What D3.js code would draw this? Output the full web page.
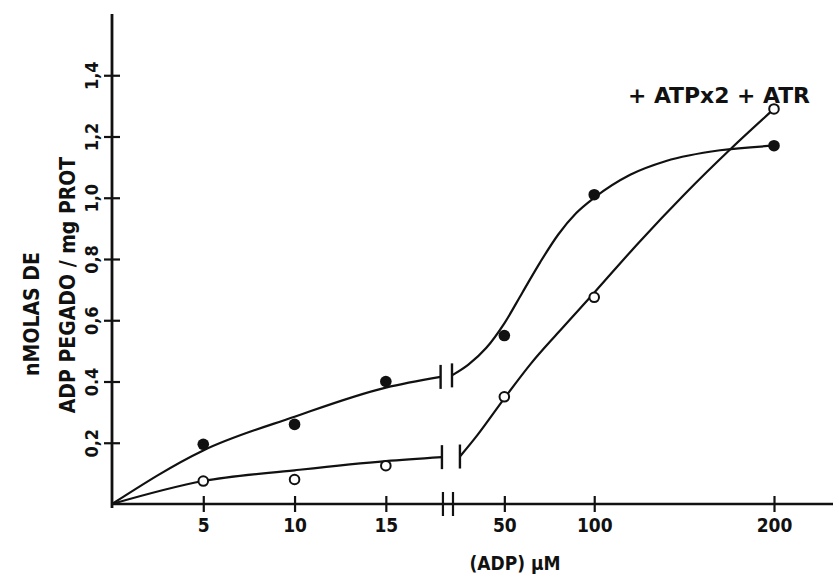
<!DOCTYPE html>
<html>
<head>
<meta charset="utf-8">
<script src="https://cdn.jsdelivr.net/npm/d3@7"></script>
<style>
  body { margin: 0; background: #fff; }
  text { font-family: "DejaVu Sans Condensed", "DejaVu Sans", sans-serif; font-weight: bold; fill: #111; }
</style>
</head>
<body>
<div id="chart"></div>
<script>
// ADP concentration (uM) of the measured points
const adp = [5, 10, 15, 50, 100, 200];
// nmol ADP bound / mg protein
const filledValues = [0.195, 0.26, 0.40, 0.55, 1.01, 1.17];
const openValues = [0.075, 0.08, 0.125, 0.35, 0.675, 1.29];

// fitted curves drawn by hand in the original
const filledCurveLeft = [[0, 0], [5, 0.175], [10, 0.285], [15, 0.38], [18, 0.415]];
const filledCurveRight = [[21.4, 0.42], [30, 0.455], [40, 0.51], [50, 0.59], [60, 0.69], [70, 0.79],
  [80, 0.88], [90, 0.95], [100, 1.0], [120, 1.075], [140, 1.12], [170, 1.155], [200, 1.17]];
const openCurveLeft = [[0, 0], [5, 0.075], [10, 0.11], [15, 0.14], [18.4, 0.153]];
const openCurveRight = [[25.3, 0.155], [35, 0.225], [50, 0.345], [65, 0.46], [80, 0.56], [100, 0.69],
  [125, 0.855], [150, 1.01], [176, 1.16], [200, 1.29]];

const xTicks = [5, 10, 15, 50, 100, 200];
const yTicks = [0.2, 0.4, 0.6, 0.8, 1.0, 1.2, 1.4];
const yTickLabels = ["0,2", "0.4", "0,6", "0,8", "1,0", "1,2", "1,4"];
const axisBreak = [18.7, 21.7];

const yTitle = ["nMOLAS DE", "ADP PEGADO / mg PROT"];
const xTitle = "(ADP) \u00b5M";
const curveLabel = "+ ATPx2 + ATR";

const width = 833, height = 578;

const svg = d3.select("#chart")
  .append("svg")
  .attr("width", width)
  .attr("height", height);

// broken x axis: linear 0-18, gap, linear 22-200
let x = d3.scaleLinear().domain([0, 18, 22, 200]).range([112, 440.6, 454, 774]);
let y = d3.scaleLinear().domain([0, 1.6]).range([504, 14]);

let line = d3.line()
  .x(d => x(d[0]))
  .y(d => y(d[1]))
  .curve(d3.curveMonotoneX);

// x axis
svg.append("line")
  .attr("x1", x(0)).attr("x2", width)
  .attr("y1", y(0)).attr("y2", y(0))
  .style("stroke", "#111").style("stroke-width", 2.5);

let xAxis = d3.axisBottom(x).tickValues(xTicks).tickSize(8).tickFormat(d3.format("d"));
let gx = svg.append("g")
  .attr("transform", "translate(0," + y(0) + ")")
  .call(xAxis);
gx.select(".domain").remove();
gx.selectAll(".tick line").attr("y1", -8).style("stroke", "#111").style("stroke-width", 2.2);
gx.selectAll(".tick text").attr("y", 15).style("font-size", "19px");

// axis break marks
svg.selectAll("line.xbreak")
  .data(axisBreak)
  .enter().append("line")
  .attr("class", "xbreak")
  .attr("x1", d => x(d)).attr("x2", d => x(d))
  .attr("y1", y(0) - 12).attr("y2", y(0) + 12)
  .style("stroke", "#111").style("stroke-width", 2.2);

// y axis
svg.append("line")
  .attr("x1", x(0)).attr("x2", x(0))
  .attr("y1", y(1.6)).attr("y2", y(0) + 4)
  .style("stroke", "#111").style("stroke-width", 2.8);

let yAxis = d3.axisLeft(y).tickValues(yTicks).tickSize(8)
  .tickFormat((d, i) => yTickLabels[i]);
let gy = svg.append("g")
  .attr("transform", "translate(" + x(0) + ",0)")
  .call(yAxis);
gy.select(".domain").remove();
gy.selectAll(".tick line").attr("x1", 8).style("stroke", "#111").style("stroke-width", 2.2);
gy.selectAll(".tick text")
  .attr("x", null).attr("dy", null)
  .attr("transform", "translate(-14,0) rotate(-90)")
  .attr("text-anchor", "middle")
  .style("font-size", "18px");

// y title, two lines rotated
svg.selectAll("text.ytitle")
  .data(yTitle)
  .enter().append("text")
  .attr("class", "ytitle")
  .attr("transform", (d, i) => "translate(" + (39 + i * 36) + "," + (i === 0 ? 314 : 285) + ") rotate(-90)")
  .attr("text-anchor", "middle")
  .style("font-size", "21px")
  .text(d => d);

svg.append("text")
  .attr("x", 515).attr("y", 570)
  .attr("text-anchor", "middle")
  .style("font-size", "19px")
  .text(xTitle);

svg.append("text")
  .attr("x", 628).attr("y", 103)
  .attr("textLength", 182)
  .attr("lengthAdjust", "spacingAndGlyphs")
  .style("font-size", "21px")
  .text(curveLabel);

// curves
[filledCurveLeft, filledCurveRight, openCurveLeft, openCurveRight].forEach(c => {
  svg.append("path")
    .attr("d", line(c))
    .style("fill", "none")
    .style("stroke", "#111")
    .style("stroke-width", 2.2);
});

// little break bars at the ends of the curves
let curveBreaks = [filledCurveLeft[filledCurveLeft.length - 1], filledCurveRight[0],
  openCurveLeft[openCurveLeft.length - 1], openCurveRight[0]];
svg.selectAll("line.cbreak")
  .data(curveBreaks)
  .enter().append("line")
  .attr("class", "cbreak")
  .attr("x1", d => x(d[0])).attr("x2", d => x(d[0]))
  .attr("y1", d => y(d[1]) - 12).attr("y2", d => y(d[1]) + 12)
  .style("stroke", "#111").style("stroke-width", 2.4);

// points
svg.selectAll("circle.filled")
  .data(adp)
  .enter().append("circle")
  .attr("class", "filled")
  .attr("cx", d => x(d))
  .attr("cy", (d, i) => y(filledValues[i]))
  .attr("r", 5.8)
  .style("fill", "#111");

svg.selectAll("circle.open")
  .data(adp)
  .enter().append("circle")
  .attr("class", "open")
  .attr("cx", d => x(d))
  .attr("cy", (d, i) => y(openValues[i]))
  .attr("r", 4.8)
  .style("fill", "#fff")
  .style("stroke", "#111")
  .style("stroke-width", 2);
</script>
</body>
</html>
